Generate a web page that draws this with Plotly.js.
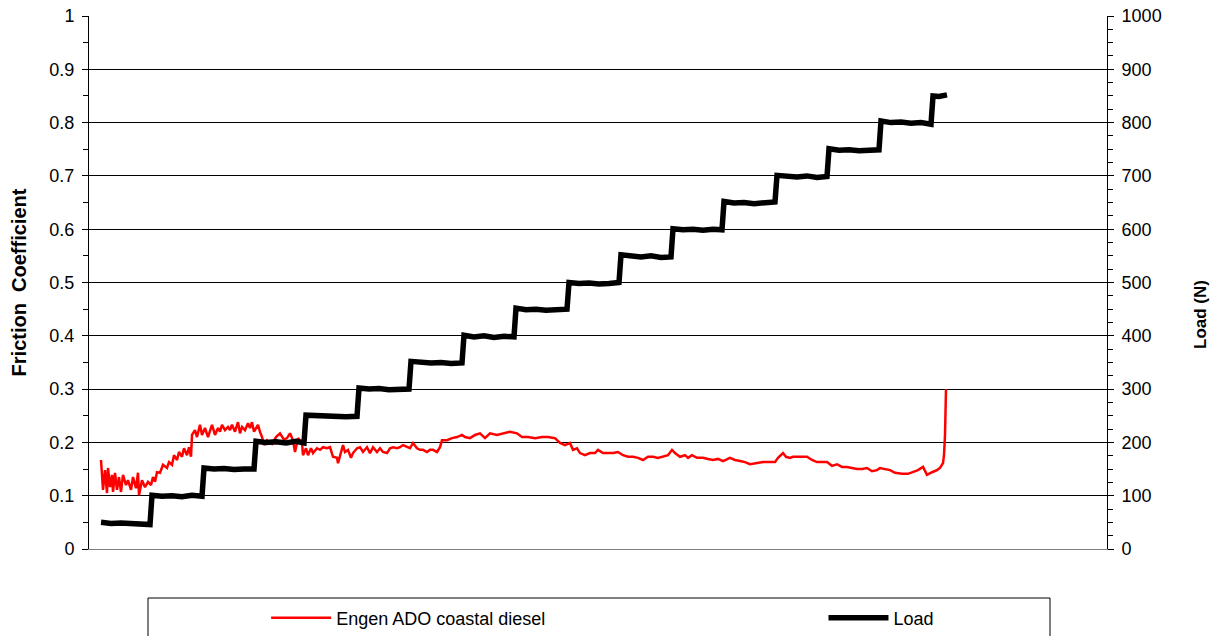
<!DOCTYPE html>
<html>
<head>
<meta charset="utf-8">
<script src="https://cdn.plot.ly/plotly-3.0.1.min.js"></script>
<style>html,body{margin:0;padding:0;background:#fff;}#chart{width:1211px;height:636px;}</style>
</head>
<body>
<div id="chart"></div>
<script>
// Time index (arbitrary units, no x labels shown in the reference)
const frictionTime = [0,2,4,6,7,9,11,12,14,16,18,20,22,25,27,30,32,35,37,38,41,44,47,50,52,54,56,59,62,66,68,71,73,76,78,81,83,86,88,90,91,94,96,99,101,104,107,109,111,114,117,119,121,124,127,129,131,134,137,139,141,144,147,149,151,153,157,159,161,163,166,171,175,179,183,186,189,192,194,197,201,202,205,207,210,212,216,219,222,226,229,232,236,237,240,242,244,247,250,252,256,259,262,266,269,272,276,279,282,286,289,292,296,299,302,306,309,312,316,319,322,326,329,332,336,339,341,346,351,356,361,364,369,374,379,384,389,396,402,409,416,421,427,434,441,447,454,459,464,469,472,476,479,484,489,494,497,502,507,512,517,522,527,532,537,542,547,552,557,562,567,571,574,579,584,587,591,596,602,607,612,617,622,629,634,639,644,649,656,662,669,674,677,682,685,689,692,699,706,711,716,721,726,731,736,741,746,751,756,761,766,771,776,779,784,789,794,801,807,812,817,822,826,831,836,839,842,843,844,845];
const frictionCoef = [0.167,0.111,0.148,0.105,0.152,0.116,0.139,0.107,0.143,0.111,0.135,0.107,0.139,0.120,0.129,0.111,0.135,0.114,0.143,0.101,0.129,0.116,0.126,0.120,0.135,0.126,0.144,0.143,0.158,0.152,0.163,0.158,0.176,0.167,0.182,0.173,0.189,0.176,0.191,0.173,0.214,0.223,0.210,0.233,0.214,0.227,0.210,0.223,0.233,0.214,0.227,0.220,0.233,0.223,0.229,0.223,0.233,0.220,0.238,0.217,0.229,0.223,0.236,0.227,0.238,0.220,0.233,0.220,0.210,0.195,0.204,0.197,0.210,0.217,0.205,0.208,0.217,0.204,0.182,0.208,0.199,0.176,0.189,0.176,0.189,0.180,0.189,0.186,0.191,0.189,0.191,0.173,0.171,0.161,0.180,0.195,0.182,0.186,0.171,0.180,0.189,0.191,0.182,0.191,0.180,0.191,0.182,0.189,0.182,0.180,0.189,0.191,0.189,0.191,0.195,0.191,0.189,0.199,0.189,0.186,0.186,0.182,0.186,0.186,0.182,0.191,0.204,0.204,0.208,0.210,0.214,0.210,0.208,0.214,0.217,0.208,0.217,0.214,0.217,0.220,0.217,0.210,0.210,0.208,0.210,0.210,0.208,0.199,0.195,0.199,0.186,0.189,0.180,0.176,0.180,0.180,0.186,0.180,0.180,0.180,0.182,0.176,0.173,0.173,0.171,0.167,0.173,0.173,0.171,0.173,0.176,0.186,0.180,0.173,0.176,0.171,0.176,0.171,0.171,0.169,0.167,0.169,0.165,0.171,0.167,0.165,0.163,0.159,0.161,0.163,0.163,0.163,0.171,0.180,0.173,0.171,0.173,0.173,0.173,0.167,0.163,0.163,0.163,0.156,0.159,0.154,0.154,0.152,0.150,0.150,0.152,0.146,0.148,0.152,0.150,0.148,0.143,0.141,0.141,0.144,0.148,0.154,0.139,0.144,0.148,0.152,0.161,0.176,0.214,0.300];

const loadTime = [0,10,20,30,40,49, 51,61,71,81,91,101, 103,113,123,133,143,153, 155,165,175,185,195,203, 205,215,225,235,245,256, 258,268,278,288,298,308, 310,320,330,340,350,361, 363,373,383,393,403,413, 415,425,435,445,455,466, 468,478,488,498,508,518, 520,530,540,550,560,570, 572,582,592,602,612,621, 623,633,643,653,663,674, 676,686,696,706,716,726, 728,738,748,758,768,778, 780,790,800,810,820,830, 832,838,846];
const loadN = [50,48,49,48,49,46, 101,99,100,98,101,99, 152,150,151,149,150,150, 202,200,201,199,202,199, 251,250,249,250,248,249, 302,300,301,299,300,300, 352,350,349,350,348,349, 401,398,400,397,399,398, 452,449,450,448,449,450, 500,498,499,497,498,500, 552,549,548,550,547,548, 601,599,600,598,600,599, 652,649,650,648,650,651, 701,699,698,700,697,699, 751,748,749,747,748,749, 803,800,801,799,800,797, 850,849,852];

const seriesNames = ["Engen ADO coastal diesel", "Load"];
const leftTitle = "Friction  Coefficient";
const rightTitle = "Load (N)";

const FONT = "Liberation Sans, Arial, sans-serif";

const traces = [
  {x: frictionTime, y: frictionCoef, name: seriesNames[0], type: "scatter", mode: "lines",
   line: {color: "#ff0000", width: 2.5}, yaxis: "y", legend: "legend"},
  {x: loadTime, y: loadN, name: seriesNames[1], type: "scatter", mode: "lines",
   line: {color: "#000000", width: 5.5}, yaxis: "y2", legend: "legend2"}
];

const legendBase = {orientation: "h", xanchor: "left", y: -0.095, yanchor: "top",
  font: {family: FONT, size: 18, color: "#000"}, itemwidth: 60, borderwidth: 0, bgcolor: "rgba(0,0,0,0)"};

const layout = {
  width: 1211, height: 636,
  margin: {l: 89, r: 104, t: 16, b: 87, pad: 0, autoexpand: false},
  paper_bgcolor: "#ffffff", plot_bgcolor: "#ffffff",
  font: {family: FONT, size: 18, color: "#000"},
  showlegend: true,
  legend: Object.assign({}, legendBase, {x: 0.174}),
  legend2: Object.assign({}, legendBase, {x: 0.7215}),
  xaxis: {range: [-12, 1006], showticklabels: false, ticks: "", showgrid: false, zeroline: false,
          showline: true, linecolor: "#808080", linewidth: 1, fixedrange: true},
  yaxis: {range: [0, 1], dtick: 0.1, tick0: 0, showgrid: true, gridcolor: "#000", gridwidth: 1,
          zeroline: false, showline: true, linecolor: "#000", linewidth: 1,
          ticks: "outside", ticklen: 6, tickcolor: "#000", tickwidth: 1,
          tickfont: {family: FONT, size: 18, color: "#000"}, ticklabelstandoff: 4,
          minor: {dtick: 0.05, ticks: "outside", ticklen: 5, tickcolor: "#000", showgrid: false},
          title: {text: leftTitle, font: {family: FONT, size: 20, color: "#000", weight: "bold"}, standoff: 17}},
  yaxis2: {range: [0, 1000], dtick: 100, tick0: 0, overlaying: "y", side: "right", showgrid: false,
           zeroline: false, showline: true, linecolor: "#000", linewidth: 1,
           ticks: "outside", ticklen: 6, tickcolor: "#000", tickwidth: 1,
           tickfont: {family: FONT, size: 18, color: "#000"}, ticklabelstandoff: 4,
           minor: {dtick: 25, ticks: "outside", ticklen: 5, tickcolor: "#000", showgrid: false}},
  annotations: [
    {text: rightTitle, xref: "paper", yref: "paper", x: (1200-89)/1018, y: (549-315)/533,
     xanchor: "center", yanchor: "middle", textangle: -90, showarrow: false,
     font: {family: FONT, size: 17, color: "#000", weight: "bold"}}
  ],
  shapes: [
    {type: "rect", xref: "paper", yref: "paper", x0: (148-89)/1018, x1: (1050-89)/1018,
     y0: (549-598)/533, y1: (549-645)/533, line: {color: "#000", width: 1}, fillcolor: "rgba(0,0,0,0)"}
  ]
};

Plotly.newPlot("chart", traces, layout, {staticPlot: true, displayModeBar: false});
</script>
</body>
</html>
